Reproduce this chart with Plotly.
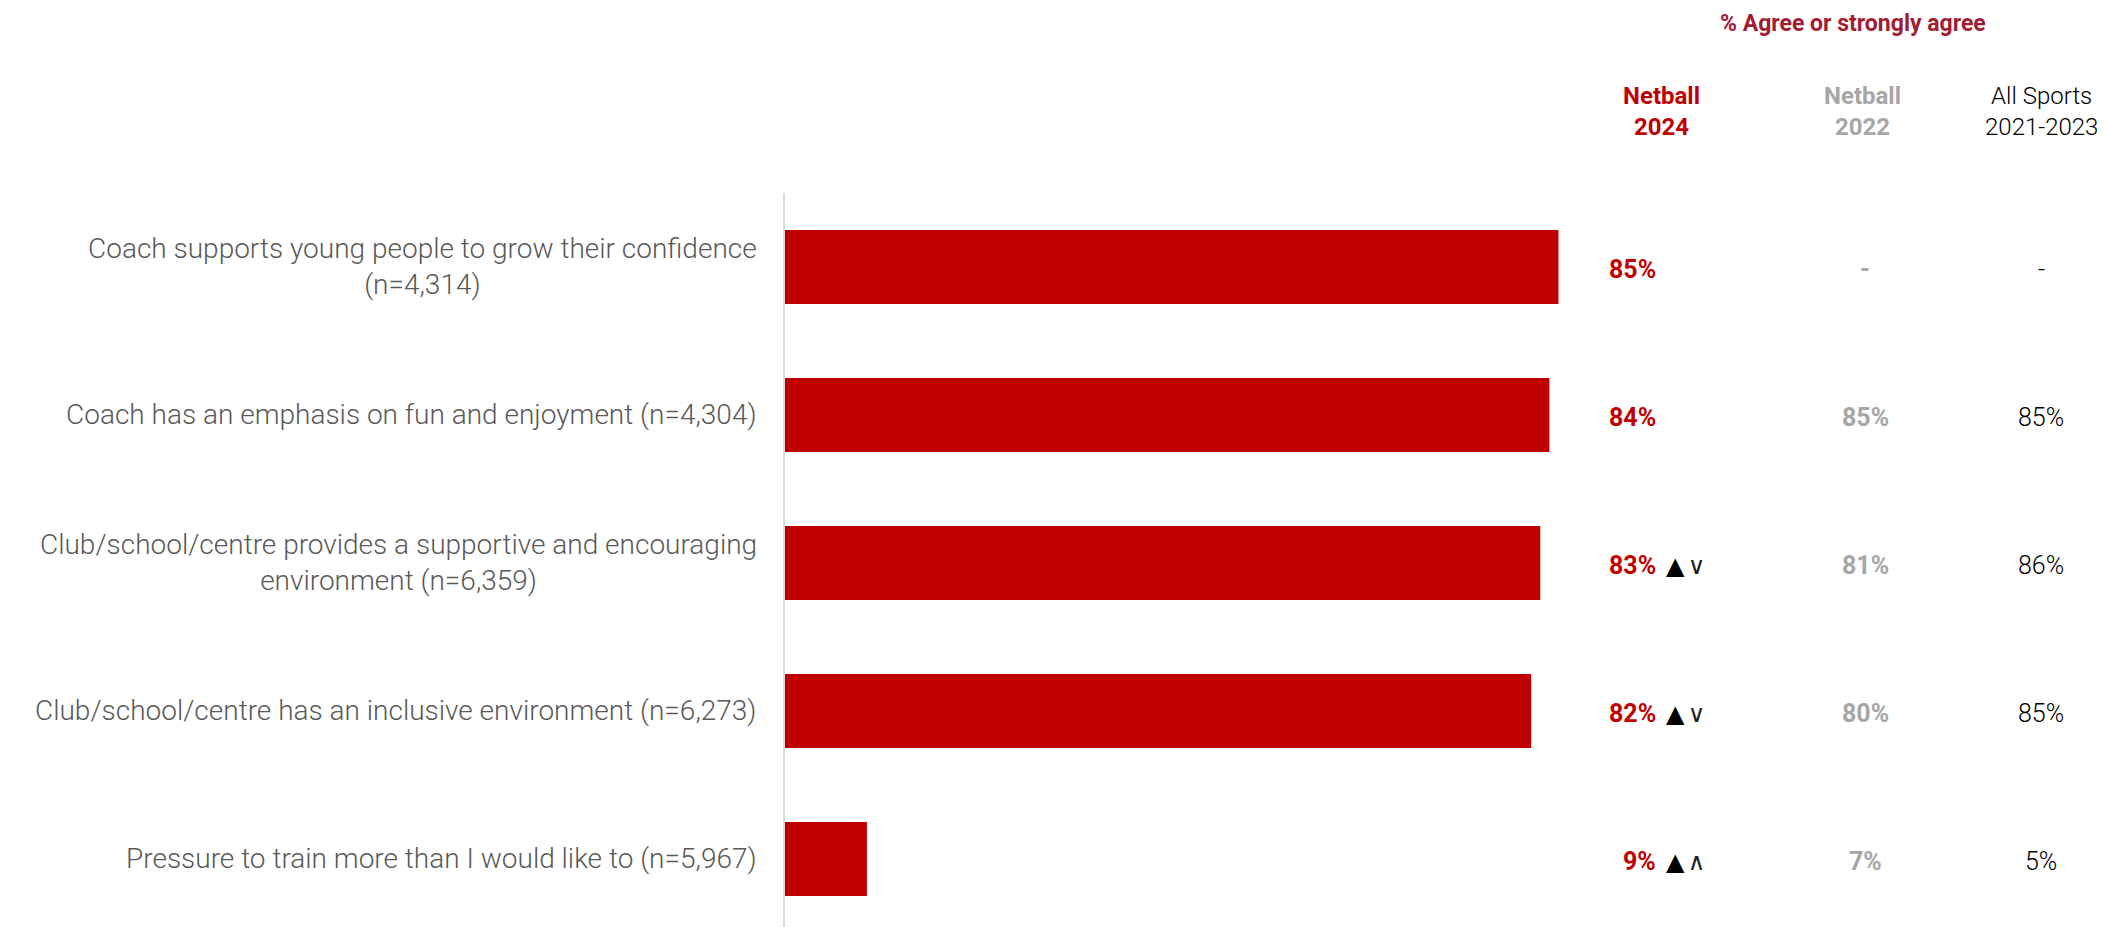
import plotly.graph_objects as go

categories = [
    "Coach supports young people to grow their confidence<br>(n=4,314)",
    "Coach has an emphasis on fun and enjoyment (n=4,304)",
    "Club/school/centre provides a supportive and encouraging<br>environment (n=6,359)",
    "Club/school/centre has an inclusive environment (n=6,273)",
    "Pressure to train more than I would like to (n=5,967)",
]
netball_2024 = [85, 84, 83, 82, 9]
sig_markers = ["", "", "▲∨", "▲∨", "▲∧"]
netball_2022 = ["-", "85%", "81%", "80%", "7%"]
all_sports = ["-", "85%", "86%", "85%", "5%"]
col_headers = ["<b>Netball<br>2024</b>", "<b>Netball<br>2022</b>", "All Sports<br>2021-2023"]
title_text = "<b>% Agree or strongly agree</b>"

OFF = 8  # default page body margin
W, H = 2105 - OFF, 927 - OFF
ML, MT, MB = 785 - OFF, 193 - OFF, 0
PW = 910
MR = W - ML - PW
PH = H - MT - MB

def px(X):
    return (X - OFF - ML) / PW

def py(Y):
    return (H - MB - (Y - OFF)) / PH

RED = "#c00000"
GREY = "#a6a6a6"
FONT = "Roboto"

fig = go.Figure()
fig.add_trace(go.Bar(
    x=netball_2024, y=list(range(len(categories))), orientation="h",
    marker=dict(color=RED, line=dict(width=0)), width=0.5,
    hoverinfo="skip",
))

ann = []
for i, cat in enumerate(categories):
    ann.append(dict(xref="paper", yref="y", x=px(759), y=i, text=cat,
                    xanchor="right", yanchor="middle", align="center",
                    showarrow=False, font=dict(family=FONT, size=28, color="#595959", weight=300)))
    ann.append(dict(xref="paper", yref="y", x=px(1658), y=i, yshift=-3, text=f"<b>{netball_2024[i]}%</b>",
                    xanchor="right", yanchor="middle", showarrow=False,
                    font=dict(family=FONT, size=25, color=RED)))
    if sig_markers[i]:
        ann.append(dict(xref="paper", yref="y", x=px(1664), y=i, yshift=-3,
                        text="<span style='font-size:24px'>▲</span> <span style='font-size:24px;color:#222'>" + sig_markers[i][1] + "</span>",
                        xanchor="left", yanchor="middle", showarrow=False,
                        font=dict(family="DejaVu Sans", size=10, color="black")))
    ann.append(dict(xref="paper", yref="y", x=px(1865), y=i, yshift=-3, text=f"<b>{netball_2022[i]}</b>",
                    xanchor="center", yanchor="middle", showarrow=False,
                    font=dict(family=FONT, size=25, color=GREY)))
    ann.append(dict(xref="paper", yref="y", x=px(2041), y=i, yshift=-3, text=all_sports[i],
                    xanchor="center", yanchor="middle", showarrow=False,
                    font=dict(family=FONT, size=25, color="black", weight=300)))

header_x = [1661, 1862, 2041]
header_col = [RED, GREY, "black"]
header_w = [400, 400, 300]
for hx, ht, hc, hw in zip(header_x, col_headers, header_col, header_w):
    ann.append(dict(xref="paper", yref="paper", x=px(hx), y=py(111), text=ht,
                    xanchor="center", yanchor="middle", showarrow=False,
                    font=dict(family=FONT, size=24, color=hc, weight=hw)))
ann.append(dict(xref="paper", yref="paper", x=px(1853), y=py(23), text=title_text,
                xanchor="center", yanchor="middle", showarrow=False,
                font=dict(family=FONT, size=23, color="#a21c32")))

fig.update_layout(
    width=W, height=H,
    margin=dict(l=ML, r=MR, t=MT, b=MB, pad=0),
    paper_bgcolor="white", plot_bgcolor="white",
    showlegend=False,
    annotations=ann,
    xaxis=dict(range=[0, 100], visible=False, fixedrange=True),
    yaxis=dict(range=[4.46, -0.5], showticklabels=False, ticks="",
               showgrid=False, zeroline=False, showline=True,
               linecolor="#d9d9d9", linewidth=2, fixedrange=True),
)

fig.write_html("out.html", config={"displayModeBar": False})
